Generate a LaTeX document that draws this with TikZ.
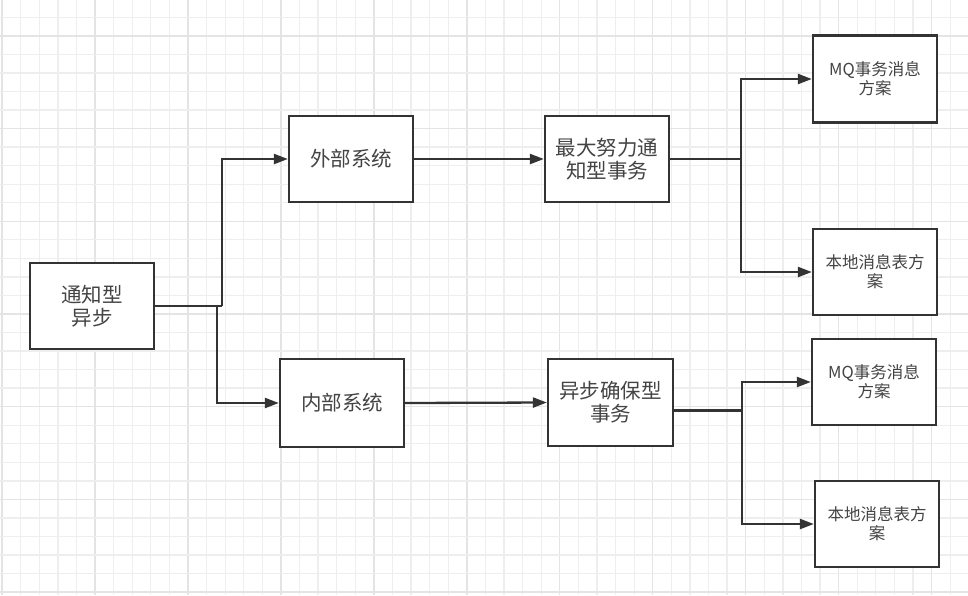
\documentclass[tikz,border=0pt]{standalone}
\usepackage{fontspec}
\setmainfont{Noto Sans CJK SC}
\usepackage{tikz}
\usetikzlibrary{arrows.meta, positioning, calc}

\definecolor{linecol}{HTML}{333333}
\definecolor{txtcol}{HTML}{444444}
\definecolor{gridminor}{HTML}{EEEEEE}
\definecolor{gridmajor}{HTML}{E4E4E4}

\tikzset{
  box/.style={draw=linecol, line width=2.3pt, fill=white, align=center, text=txtcol,
    minimum width=124pt, minimum height=86pt, inner sep=2pt,
    font=\fontsize{20.5}{23}\selectfont},
  smallbox/.style={box, font=\fontsize{16.5}{19}\selectfont},
  conn/.style={draw=linecol, line width=2.3pt, -{Triangle[length=14pt,width=10pt]}},
  plain/.style={draw=linecol, line width=2.3pt}
}

\begin{document}
\begin{tikzpicture}[x=1pt, y=-1pt]
\useasboundingbox (0,0) rectangle (968,595);
\fill[white] (0,0) rectangle (968,595);
% background grid
\foreach \i in {0,...,52}{
  \pgfmathsetmacro{\gx}{2.1+18.59*\i}
  \pgfmathtruncatemacro{\m}{mod(\i,5)}
  \ifnum\m=0
    \draw[gridmajor, line width=1.3pt] (\gx,0)--(\gx,595);
  \else
    \draw[gridminor, line width=1.3pt] (\gx,0)--(\gx,595);
  \fi
}
\foreach \j in {0,...,33}{
  \pgfmathsetmacro{\gy}{-1.2+18.54*\j}
  \pgfmathtruncatemacro{\m}{mod(\j+3,5)}
  \ifnum\m=0
    \draw[gridmajor, line width=1.3pt] (0,\gy)--(968,\gy);
  \else
    \draw[gridminor, line width=1.3pt] (0,\gy)--(968,\gy);
  \fi
}

% boxes
\node[box] (async) at (92,306) {通知型\\异步};
\node[box] (ext) at (351,159) {外部系统};
\node[box, minimum height=88pt] (inner) at (342,403) {内部系统};
\node[box] (besteff) at (607,159) {最大努力通\\知型事务};
\node[box, minimum width=125pt, minimum height=87pt] (reliable) at (610.5,402.5) {异步确保型\\事务};
\node[smallbox, minimum height=87pt] (mq1) at (875,79) {MQ事务消息\\方案};
\node[smallbox] (local1) at (875,272) {本地消息表方\\案};
\node[smallbox] (mq2) at (874,382) {MQ事务消息\\方案};
\node[smallbox] (local2) at (877,524) {本地消息表方\\案};

% junctions
\coordinate (jext) at (222,306);
\coordinate (jint) at (217,306);
\coordinate (jbest) at (741,159);
\coordinate (rout) at ($(reliable.east)+(0,8)$);
\coordinate (jrel) at (742,410.5);

% connectors
\draw[plain] (async.east) -- (jext);
\draw[conn] (jext) |- (ext.west);
\draw[conn] (jint) |- (inner.west);
\draw[conn] (ext.east) -- (besteff.west);
\draw[conn] (inner.east) -- (reliable.west);
\draw[plain] (besteff.east) -- (jbest);
\draw[conn] (jbest) |- (mq1.west);
\draw[conn] (jbest) |- (local1.west);
\draw[plain] (rout) -- (jrel);
\draw[conn] (jrel) |- (mq2.west);
\draw[conn] (jrel) |- (local2.west);
\end{tikzpicture}
\end{document}
